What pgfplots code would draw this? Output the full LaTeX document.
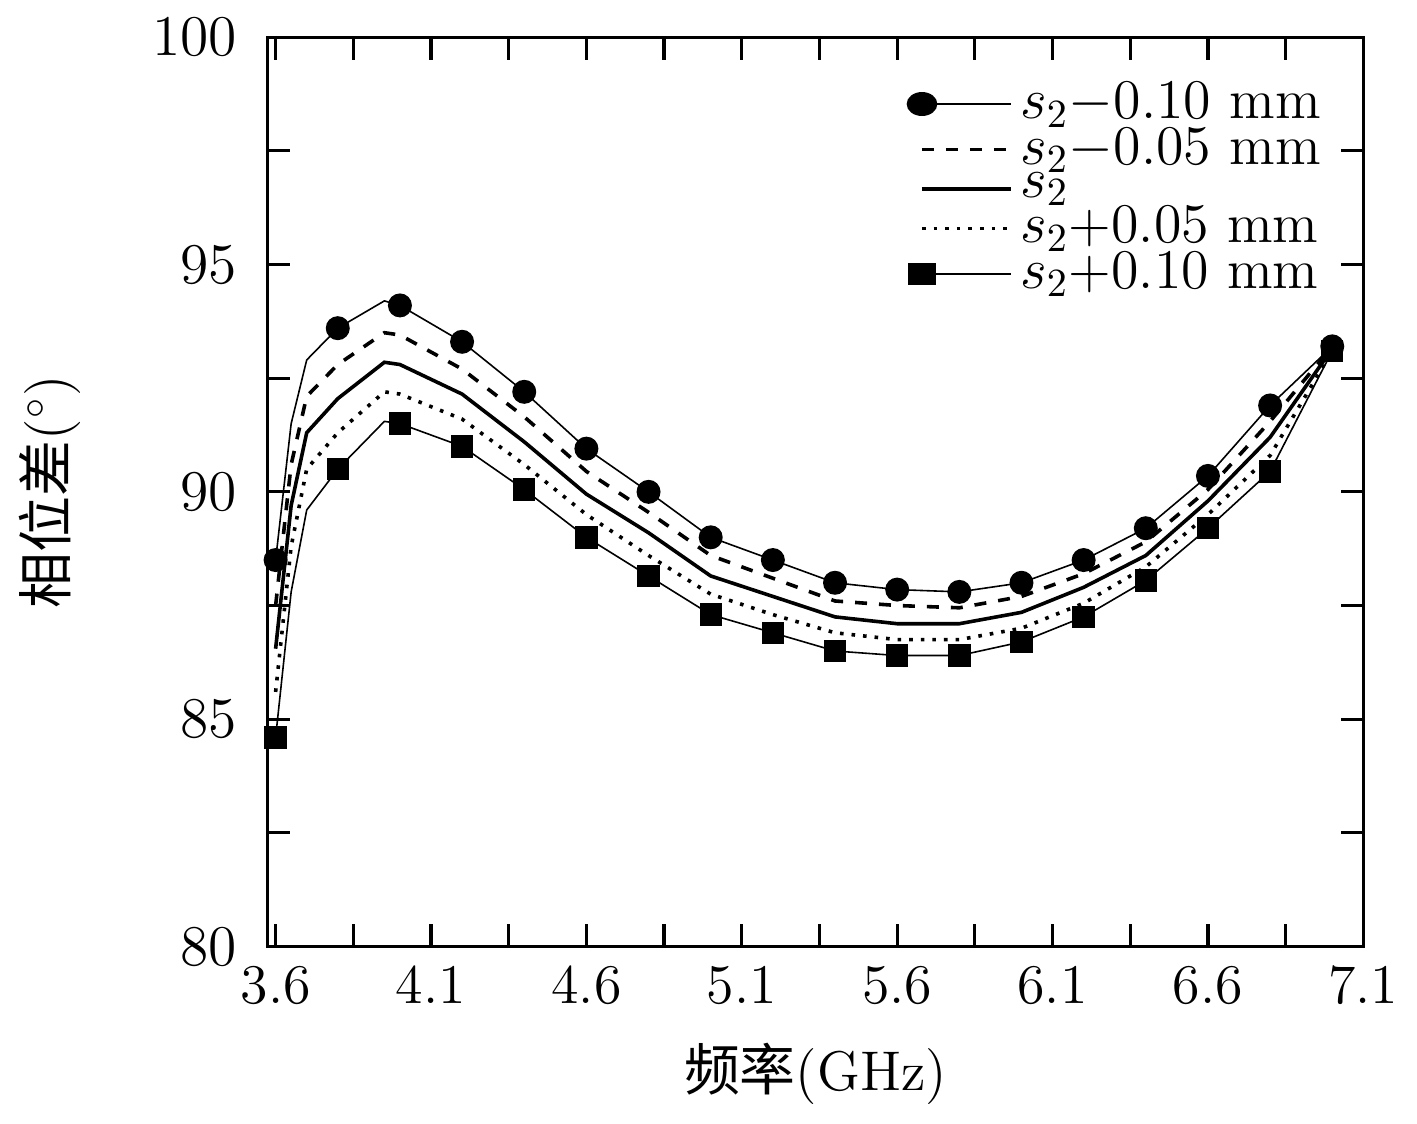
\documentclass[border=0pt]{standalone}
\usepackage{pgfplots}
\pgfplotsset{compat=1.18}
\usepackage{fontspec}
\newfontfamily\cjk{Noto Sans CJK SC}
\begin{document}
\fontsize{14}{16}\selectfont
\begin{tikzpicture}
\begin{axis}[
  scale only axis, width=9.64cm, height=8.0cm,
  xmin=3.574, xmax=7.1, ymin=80, ymax=100,
  xtick={3.6,4.1,4.6,5.1,5.6,6.1,6.6,7.1},
  xticklabels={3.6,4.1,4.6,5.1,5.6,6.1,6.6,7.1},
  ytick={80,85,90,95,100},
  minor x tick num=1, minor y tick num=1,
  tick align=inside, major tick length=0.2cm, minor tick length=0.2cm,
  tick style={black, line width=0.8pt},
  axis line style={line width=0.8pt},
  xlabel={{\cjk 频率}(GHz)}, ylabel={{\cjk 相位差}($^\circ$)},
  xlabel style={yshift=0cm}, ylabel style={yshift=0.3cm},
  yticklabel style={xshift=-0.1cm},
  legend style={draw=none, fill=none, at={(0.98,0.97)}, anchor=north east, row sep=-4pt, font=\fontsize{14}{16}\selectfont},
  legend cell align=left,
  legend image post style={xscale=1.3},
]
\addplot[black, mark=*, mark size=2.8pt, mark indices={1,4,6,7,8,9,10,11,12,13,14,15,16,17,18,19,20,21}] coordinates {(3.6,88.5)(3.65,91.5)(3.7,92.9)(3.8,93.6)(3.95,94.2)(4.0,94.1)(4.2,93.3)(4.4,92.2)(4.6,90.95)(4.8,90.0)(5.0,89.0)(5.2,88.5)(5.4,88.0)(5.6,87.85)(5.8,87.8)(6.0,88.0)(6.2,88.5)(6.4,89.2)(6.6,90.35)(6.8,91.9)(7.0,93.2)};
\addlegendentry{$s_2$$-$0.10 mm}
\addplot[black, dashed, line width=0.9pt] coordinates {(3.6,87.5)(3.65,90.6)(3.7,92.1)(3.8,92.8)(3.95,93.5)(4.0,93.45)(4.2,92.7)(4.4,91.65)(4.6,90.45)(4.8,89.55)(5.0,88.6)(5.2,88.1)(5.4,87.6)(5.6,87.5)(5.8,87.45)(6.0,87.7)(6.2,88.2)(6.4,88.9)(6.6,90.05)(6.8,91.55)(7.0,93.2)};
\addlegendentry{$s_2$$-$0.05 mm}
\addplot[black, line width=0.9pt] coordinates {(3.6,86.55)(3.65,89.7)(3.7,91.3)(3.8,92.05)(3.95,92.85)(4.0,92.8)(4.2,92.15)(4.4,91.1)(4.6,89.95)(4.8,89.1)(5.0,88.15)(5.2,87.7)(5.4,87.25)(5.6,87.1)(5.8,87.1)(6.0,87.35)(6.2,87.9)(6.4,88.6)(6.6,89.8)(6.8,91.2)(7.0,93.15)};
\addlegendentry{$s_2$}
\addplot[black, dotted, line width=0.9pt] coordinates {(3.6,85.6)(3.65,88.8)(3.7,90.5)(3.8,91.3)(3.95,92.2)(4.0,92.15)(4.2,91.6)(4.4,90.6)(4.6,89.5)(4.8,88.6)(5.0,87.75)(5.2,87.3)(5.4,86.9)(5.6,86.75)(5.8,86.75)(6.0,87.0)(6.2,87.55)(6.4,88.35)(6.6,89.5)(6.8,90.8)(7.0,93.1)};
\addlegendentry{$s_2$+0.05 mm}
\addplot[black, mark=square*, mark size=2.6pt, mark indices={1,4,6,7,8,9,10,11,12,13,14,15,16,17,18,19,20,21}] coordinates {(3.6,84.6)(3.65,87.8)(3.7,89.6)(3.8,90.5)(3.95,91.55)(4.0,91.5)(4.2,91.0)(4.4,90.05)(4.6,89.0)(4.8,88.15)(5.0,87.3)(5.2,86.9)(5.4,86.5)(5.6,86.4)(5.8,86.4)(6.0,86.7)(6.2,87.25)(6.4,88.05)(6.6,89.2)(6.8,90.45)(7.0,93.1)};
\addlegendentry{$s_2$+0.10 mm}
\end{axis}
\end{tikzpicture}
\end{document}
